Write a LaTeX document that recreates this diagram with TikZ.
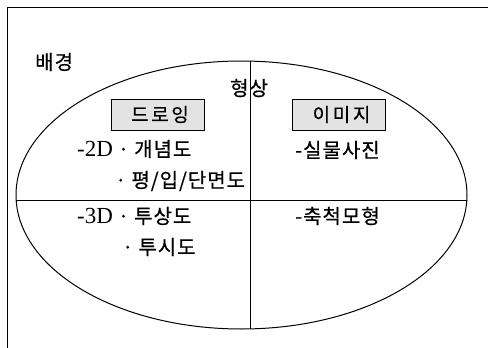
\documentclass[tikz,border=0pt]{standalone}
\usepackage{fontspec}
\setmainfont{Liberation Serif}
\newfontfamily\kr[LetterSpace=5,FakeBold=0.6]{Noto Sans CJK KR}
\newfontfamily\krwide[LetterSpace=14,FakeBold=0.6]{Noto Sans CJK KR}
\usetikzlibrary{shapes.geometric}
\tikzset{
  lbl/.style={anchor=west, inner sep=0pt, font=\fontsize{20}{24}\selectfont},
  catbox/.style={draw, line width=1pt, fill=gray!22, minimum width=93pt, minimum height=31pt, inner sep=0pt, font=\fontsize{19}{22}\selectfont\krwide},
  thin line/.style={line width=0.9pt}
}
\newcommand{\lat}[1]{{\fontsize{23}{24}\selectfont #1}}
\begin{document}
\begin{tikzpicture}[x=1pt,y=-1pt]
\useasboundingbox (0,0) rectangle (488,348);
\fill[white] (0,0) rectangle (488,348);
% frame
\draw[thin line] (7,348) -- (7,7) -- (488,7);
% ellipse
\node[draw, ellipse, line width=1pt, minimum width=451pt, minimum height=268pt, inner sep=0pt] (ell) at (241.5,195) {};
\coordinate (vt) at (250,61.1);
\coordinate (vb) at (250,328.9);
\coordinate (hl) at (16.2,200);
\coordinate (hr) at (466.8,200);
\draw[thin line] (vt) -- (vb);
\draw[thin line] (hl) -- (hr);
% labels
\node[lbl] (bg) at (35,62) {\kr 배경};
\node[lbl] (form) at (230,88) {\kr 형상};
\node[catbox] (drawing) at (157.5,114.5) {\hspace{5pt}드로잉};
\node[catbox] (image) at (339,114.5) {\hspace{5pt}이미지};
\node[lbl] (t1) at (77,149) {\lat{-2D} {\kr ·} {\kr 개념도}};
\node[lbl] (t2) at (115,181) {{\kr ·} {\kr 평/입/단면도}};
\node[lbl] (t3) at (77,216) {\lat{-3D} {\kr ·} {\kr 투상도}};
\node[lbl] (t4) at (122,247) {{\kr ·} {\kr 투시도}};
\node[lbl] (r1) at (295,150) {{\kr -실물사진}};
\node[lbl] (r2) at (295,216) {{\kr -축척모형}};
\end{tikzpicture}
\end{document}
